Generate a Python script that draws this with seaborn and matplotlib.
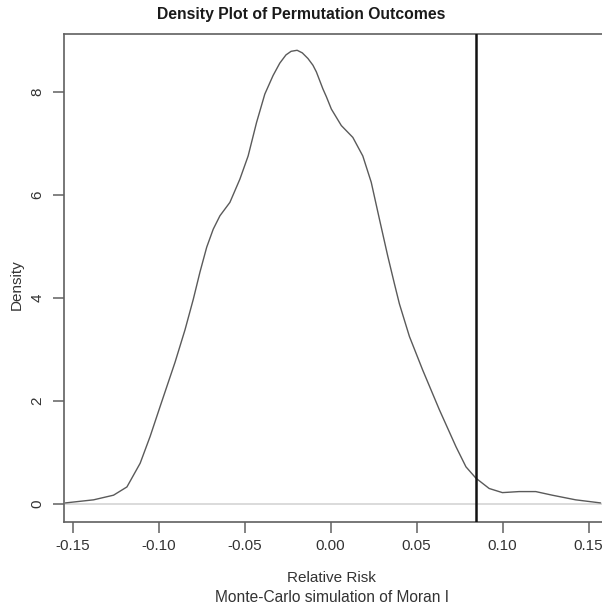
import matplotlib
matplotlib.use("Agg")
import matplotlib.pyplot as plt
import seaborn as sns
import pandas as pd

# Density curve
rr = [-0.1543, -0.1379, -0.1263, -0.1185, -0.1108, -0.1050, -0.0992, -0.0905,
      -0.0847, -0.0799, -0.0760, -0.0721, -0.0683, -0.0644, -0.0586,
      -0.0528, -0.0480, -0.0431, -0.0383, -0.0335, -0.0296, -0.0260, -0.0230,
      -0.0195, -0.0165, -0.0132, -0.0103, -0.0083, -0.0045, -0.0025, 0.0004,
      0.0062, 0.0129, 0.0187, 0.0236, 0.0284, 0.0332, 0.0371, 0.0400, 0.0458,
      0.0535, 0.0632, 0.0729, 0.0787, 0.0845, 0.0922, 0.0999, 0.1096, 0.1193,
      0.1289, 0.1425, 0.1570]
dens = [0.02, 0.08, 0.17, 0.33, 0.79, 1.31, 1.89, 2.75, 3.38, 3.97, 4.50,
        4.98, 5.33, 5.59, 5.85, 6.30, 6.75, 7.40, 7.95, 8.31, 8.55, 8.71, 8.78,
        8.80, 8.75, 8.64, 8.51, 8.38, 8.05, 7.90, 7.66, 7.34, 7.11, 6.75, 6.24,
        5.52, 4.81, 4.27, 3.88, 3.25, 2.60, 1.83, 1.11, 0.72, 0.50, 0.30, 0.22,
        0.24, 0.24, 0.17, 0.08, 0.02]
observed = 0.0845
x_ticks = [-0.15, -0.10, -0.05, 0.00, 0.05, 0.10, 0.15]
x_tick_labels = ["-0.15", "-0.10", "-0.05", "0.00", "0.05", "0.10", "0.15"]
y_ticks = [0, 2, 4, 6, 8]

title = "Density Plot of Permutation Outcomes"
xlab = "Relative Risk"
sub = "Monte-Carlo simulation of Moran I"
ylab = "Density"

sns.set_theme(style="white")
plt.rcParams["font.family"] = ["Liberation Sans", "DejaVu Sans"]

W, H = 602, 607
fig = plt.figure(figsize=(W / 100, H / 100), dpi=100)
left_px, right_px, top_px, bottom_px = 64, 614.5, 34.3, 522
ax = fig.add_axes([left_px / W, 1 - bottom_px / H,
                   (right_px - left_px) / W, (bottom_px - top_px) / H])

df = pd.DataFrame({"rr": rr, "dens": dens})
ax.axhline(0, color="#d4d4d4", lw=1.2, zorder=1)
sns.lineplot(data=df, x="rr", y="dens", ax=ax, color="#5a5a5a", lw=1.0,
             sort=False, zorder=2)
ax.axvline(observed, color="#111111", lw=1.8, zorder=3)

ax.set_xlim(-0.1551, 0.1651)
ax.set_ylim(-0.35, 9.11)
ax.set_xticks(x_ticks)
ax.set_xticklabels(x_tick_labels)
ax.set_yticks(y_ticks)
ax.set_yticklabels([str(v) for v in y_ticks], rotation=90, va="center")
ax.tick_params(axis="both", direction="out", length=8, width=1.1,
               color="#606060", labelsize=11, labelcolor="#333333", pad=4,
               bottom=True, left=True)
ax.tick_params(axis="y", pad=6)
for s in ax.spines.values():
    s.set_color("#606060")
    s.set_linewidth(1.2)
ax.set_xlabel("")
ax.set_ylabel("")

fig.text(301 / W, 1 - 14 / H, title, ha="center", va="center",
         fontsize=11.3, fontweight="bold", color="#1a1a1a")
fig.text(331 / W, 1 - 578 / H, xlab, ha="center", va="center",
         fontsize=11, color="#333333")
fig.text(332 / W, 1 - 598 / H, sub, ha="center", va="center",
         fontsize=11.2, color="#333333")
fig.text(17 / W, 1 - 285 / H, ylab, ha="center", va="center", rotation=90,
         fontsize=11, color="#333333")

fig.savefig("out.png", dpi=100)
